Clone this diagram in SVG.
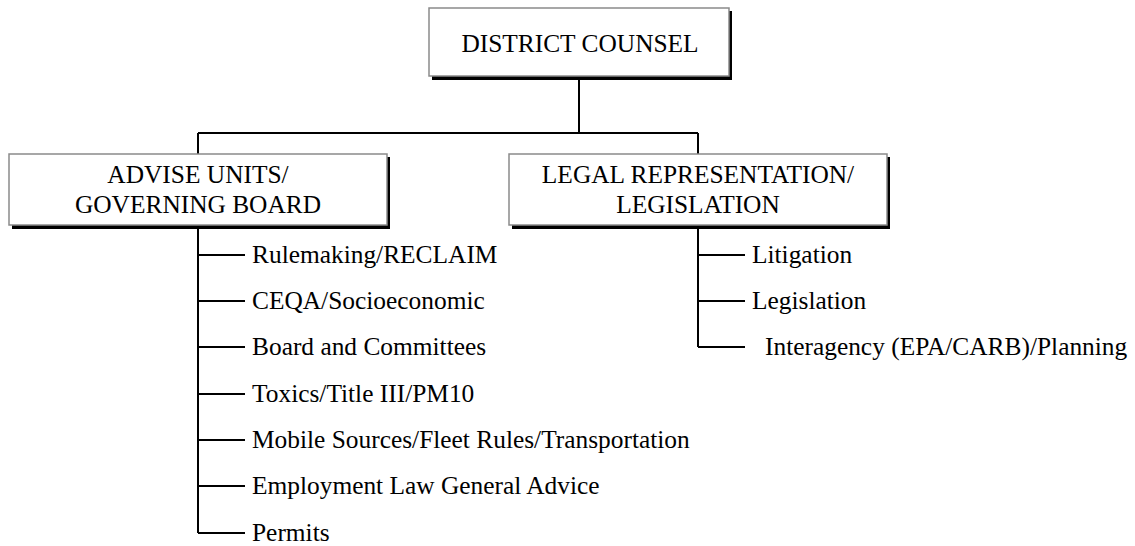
<svg xmlns="http://www.w3.org/2000/svg" width="1135" height="546" viewBox="0 0 1135 546">
  <style>
    text { font-family: "Liberation Serif", "Times New Roman", serif; font-size: 25.4px; fill: #000; }
    .box-shadow { fill: #000; }
    .box { fill: #fff; stroke: #8a8a8a; stroke-width: 1.5; }
    .title { text-anchor: middle; }
    .link { fill: none; stroke: #000; stroke-width: 2; }
    .branch { fill: none; stroke: #000; stroke-width: 1.8; }
  </style>

  <!-- connectors -->
  <g id="connectors">
    <path class="link" d="M579 80 V133 M198 133 H698 M198 133 V154 M698 133 V154"/>
    <!-- advise units subtree -->
    <path class="link" d="M198 228 V533"/>
    <path class="branch" d="M198 255 H245 M198 301 H245 M198 347 H245 M198 394 H245 M198 440 H245 M198 486 H245 M198 533 H245"/>
    <!-- legal representation subtree -->
    <path class="link" d="M698 228 V347"/>
    <path class="branch" d="M698 255 H745 M698 301 H745 M698 347 H745"/>
  </g>

  <g id="district-counsel">
    <rect class="box-shadow" x="432" y="11" width="300" height="69"/>
    <rect class="box" x="429" y="8" width="300" height="68"/>
    <text class="title" x="580" y="52">DISTRICT COUNSEL</text>
  </g>

  <g id="advise-units">
    <rect class="box-shadow" x="12" y="157" width="378" height="72"/>
    <rect class="box" x="9" y="154" width="378" height="71"/>
    <text class="title" x="198" y="183">ADVISE UNITS/</text>
    <text class="title" x="198" y="213">GOVERNING BOARD</text>
  </g>

  <g id="legal-representation">
    <rect class="box-shadow" x="512" y="157" width="378" height="72"/>
    <rect class="box" x="509" y="154" width="378" height="71"/>
    <text class="title" x="698" y="183">LEGAL REPRESENTATION/</text>
    <text class="title" x="698" y="213">LEGISLATION</text>
  </g>

  <g id="advise-items">
    <text x="252" y="263">Rulemaking/RECLAIM</text>
    <text x="252" y="309">CEQA/Socioeconomic</text>
    <text x="252" y="355">Board and Committees</text>
    <text x="252" y="402">Toxics/Title III/PM10</text>
    <text x="252" y="448">Mobile Sources/Fleet Rules/Transportation</text>
    <text x="252" y="494">Employment Law General Advice</text>
    <text x="252" y="541">Permits</text>
  </g>

  <g id="legal-items">
    <text x="752" y="263">Litigation</text>
    <text x="752" y="309">Legislation</text>
    <text x="765" y="355">Interagency (EPA/CARB)/Planning</text>
  </g>
</svg>
